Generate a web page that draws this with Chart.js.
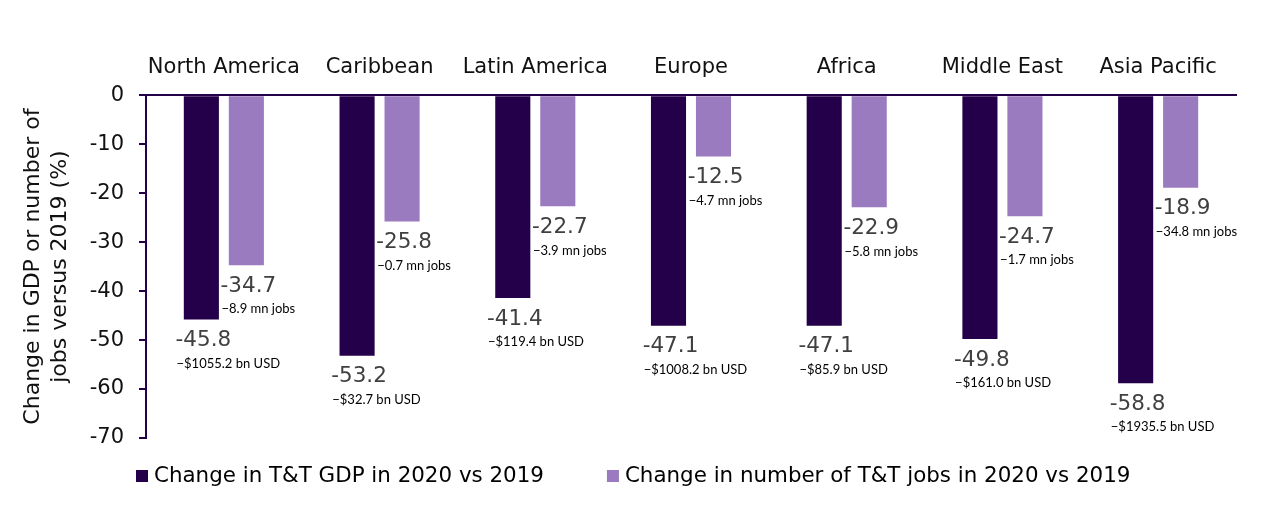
<!DOCTYPE html>
<html><head><meta charset="utf-8">
<script src="https://cdn.jsdelivr.net/npm/chart.js@4.4.1/dist/chart.umd.min.js"></script>
<style>html,body{margin:0;padding:0;background:#fff;}#wrap{width:1280px;height:529px;position:relative;}</style>
</head><body><div id="wrap"><canvas id="c"></canvas></div>
<script>
const regions = ['North America','Caribbean','Latin America','Europe','Africa','Middle East','Asia Pacific'];
const gdpChange = [-45.8,-53.2,-41.4,-47.1,-47.1,-49.8,-58.8];
const jobsChange = [-34.7,-25.8,-22.7,-12.5,-22.9,-24.7,-18.9];
const gdpLossLabels = ['\u2212$1055.2 bn USD','\u2212$32.7 bn USD','\u2212$119.4 bn USD','\u2212$1008.2 bn USD','\u2212$85.9 bn USD','\u2212$161.0 bn USD','\u2212$1935.5 bn USD'];
const jobsLossLabels = ['\u22128.9 mn jobs','\u22120.7 mn jobs','\u22123.9 mn jobs','\u22124.7 mn jobs','\u22125.8 mn jobs','\u22121.7 mn jobs','\u221234.8 mn jobs'];
const seriesNames = ['Change in T&T GDP in 2020 vs 2019','Change in number of T&T jobs in 2020 vs 2019'];
const yMin = -70, yMax = 0, yStep = 10;
const yTitle = ['Change in GDP or number of','jobs versus 2019 (%)'];

const DARK = '#230049', LIGHT = '#9b7bbf';
const FONT = '"DejaVu Sans", Verdana, sans-serif';

const barLabels = {
  id: 'barLabels',
  afterDatasetsDraw(chart) {
    const ctx = chart.ctx;
    chart.data.datasets.forEach((ds, di) => {
      const meta = chart.getDatasetMeta(di);
      meta.data.forEach((bar, i) => {
        const txt = ds.data[i].toFixed(1);
        ctx.save();
        ctx.font = '21.5px ' + FONT;
        ctx.fillStyle = '#404040';
        ctx.textAlign = 'center';
        ctx.textBaseline = 'middle';
        const cx = bar.x + 2, cy = bar.y + 21;
        ctx.fillText(txt, cx, cy);
        const w = ctx.measureText(txt).width;
        ctx.font = '13px Lato, "Open Sans", sans-serif';
        ctx.fillStyle = '#000';
        ctx.textAlign = 'left';
        ctx.fillText(ds.subLabels[i], cx - w / 2 + 1, cy + 23);
        ctx.restore();
      });
    });
  }
};

const bottomLegend = {
  id: 'bottomLegend',
  afterDraw(chart) {
    const ctx = chart.ctx;
    const ca = chart.chartArea;
    const box = 12, gapText = 6, gapItem = 63;
    ctx.save();
    ctx.font = '21.4px ' + FONT;
    ctx.textBaseline = 'middle';
    ctx.textAlign = 'left';
    let x = ca.left - 10;
    const y = ca.bottom + 38;
    chart.data.datasets.forEach(ds => {
      ctx.fillStyle = ds.backgroundColor;
      ctx.fillRect(x, y - box / 2, box, box);
      ctx.fillStyle = '#000';
      ctx.fillText(ds.label, x + box + gapText, y);
      x += box + gapText + ctx.measureText(ds.label).width + gapItem;
    });
    ctx.restore();
  }
};

new Chart(document.getElementById('c'), {
  type: 'bar',
  data: {
    labels: regions,
    datasets: [
      {label: seriesNames[0], data: gdpChange, backgroundColor: DARK, subLabels: gdpLossLabels,
       categoryPercentage: 0.578, barPercentage: 0.78},
      {label: seriesNames[1], data: jobsChange, backgroundColor: LIGHT, subLabels: jobsLossLabels,
       categoryPercentage: 0.578, barPercentage: 0.78}
    ]
  },
  options: {
    responsive: true,
    maintainAspectRatio: false,
    animation: false,
    layout: {padding: {left: 0, right: 44, top: 40, bottom: 91}},
    plugins: {legend: {display: false}, tooltip: {enabled: false}},
    scales: {
      x: {
        position: 'top',
        grid: {display: false, drawTicks: false},
        border: {display: true, color: DARK, width: 2},
        ticks: {font: {family: FONT, size: 21}, color: '#111', padding: 15, maxRotation: 0, autoSkip: false}
      },
      y: {
        min: yMin, max: yMax,
        afterFit(scale) { scale.width = 146; },
        grid: {display: true, drawOnChartArea: false, drawTicks: true, tickLength: 7, color: DARK, lineWidth: 2},
        border: {display: true, color: DARK, width: 2},
        ticks: {stepSize: yStep, font: {family: FONT, size: 21}, color: '#111', padding: 15},
        title: {display: true, text: yTitle, font: {family: FONT, size: 22, lineHeight: 1.23}, color: '#111', padding: {top: 20, bottom: 0}}
      }
    }
  },
  plugins: [barLabels, bottomLegend]
});
</script></body></html>
